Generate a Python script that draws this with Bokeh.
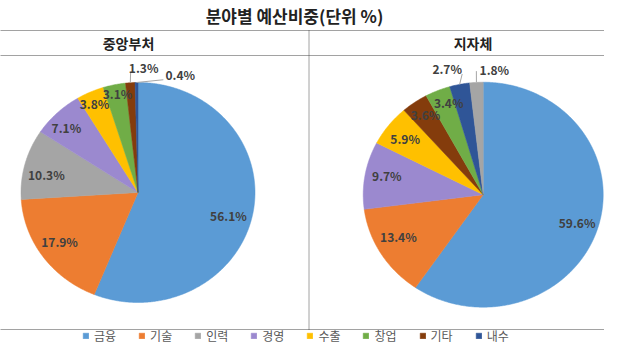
import math
from bokeh.plotting import figure
from bokeh.models import ColumnDataSource, Range1d, Label, Legend, LegendItem
from bokeh.core.properties import value
from bokeh.embed import file_html
from bokeh.resources import INLINE

# ---------------- data ----------------
title_text = "분야별 예산비중(단위 %)"
panel_titles = ["중앙부처", "지자체"]
categories = ["금융", "기술", "인력", "경영", "수출", "창업", "기타", "내수"]
central_values = [56.1, 17.9, 10.3, 7.1, 3.8, 3.1, 1.3, 0.4]
local_values = [59.6, 13.4, 1.8, 9.7, 5.9, 3.4, 3.6, 2.7]
local_order = ["금융", "기술", "경영", "수출", "기타", "창업", "내수", "인력"]

# ---------------- styles ----------------
colors = {
    "금융": "#5B9BD5", "기술": "#ED7D31", "인력": "#A5A5A5", "경영": "#9B89CF",
    "수출": "#FFC000", "창업": "#70AD47", "기타": "#843C0C", "내수": "#2F5597",
}
KFONT = "Noto Sans CJK KR"
LABEL_COLOR = "#404040"

W, H = 604, 344

# layout (picture pixel coordinates)
left_pie = dict(cx=137.5, cy=192.0, rx=117.0, ry=110.0,
                shift=[4, 2.2, -3.1, -2.3, -0.6, 0.7, 6.2, 19.4],
                rad=[0.80, 0.805, 0.80, 0.85, 0.89, 0.917, 1.14, 1.13],
                leader=[None, None, None, None, None, None, (-13, 5), (-17, 5)])
right_pie = dict(cx=482.7, cy=194.2, rx=120.0, ry=112.5,
                 shift=[0.2, 3.6, 1.8, -0.5, 0.9, 3.0, -3.7, 8.0],
                 rad=[0.82, 0.80, 0.82, 0.82, 0.86, 0.87, 1.157, 1.12],
                 leader=[None, None, None, None, None, None, (15, 5), (-18, 2)])

p = figure(width=W, height=H, x_range=Range1d(0, W), y_range=Range1d(H, 0),
           output_backend="svg", toolbar_location=None, min_border=0,
           x_axis_location=None, y_axis_location=None)
p.grid.visible = False
p.outline_line_color = None
p.background_fill_color = "white"
p.border_fill_color = "white"


def pt(cfg, ang_deg, r):
    a = math.radians(ang_deg)
    return cfg["cx"] + cfg["rx"] * r * math.sin(a), cfg["cy"] - cfg["ry"] * r * math.cos(a)


def build_pie(cats, vals, cfg):
    total = sum(vals)
    xs, ys, cols, names = [], [], [], []
    lx, ly, lt = [], [], []
    seg = {"x0": [], "y0": [], "x1": [], "y1": []}
    start = 0.0
    for i, (c, v) in enumerate(zip(cats, vals)):
        sweep = v / total * 360.0
        end = start + sweep
        n = max(2, int(sweep * 2))
        px, py = [cfg["cx"]], [cfg["cy"]]
        for k in range(n + 1):
            x, y = pt(cfg, start + sweep * k / n, 1.0)
            px.append(x)
            py.append(y)
        xs.append(px)
        ys.append(py)
        cols.append(colors[c])
        names.append(c)
        mid = (start + end) / 2
        x, y = pt(cfg, mid + cfg["shift"][i], cfg["rad"][i])
        lx.append(x)
        ly.append(y)
        lt.append(f"{v:.1f}%")
        if cfg["leader"][i] is not None:
            ex, ey = pt(cfg, mid, 1.0)
            seg["x0"].append(x + cfg["leader"][i][0])
            seg["y0"].append(y + cfg["leader"][i][1])
            seg["x1"].append(ex)
            seg["y1"].append(ey)
        start = end
    src = ColumnDataSource(dict(xs=xs, ys=ys, color=cols, name=names))
    r = p.patches("xs", "ys", source=src, fill_color="color", line_color="color", line_width=0.5)
    p.segment("x0", "y0", "x1", "y1", source=ColumnDataSource(seg), line_color="#A6A6A6", line_width=1)
    p.text(lx, ly, text=lt, text_align="center", text_baseline="middle",
           text_font=value(KFONT), text_font_style="bold", text_font_size="12px",
           text_color=LABEL_COLOR)
    return r


r_left = build_pie(categories, central_values, left_pie)
local_map = dict(zip(categories, local_values))
r_right = build_pie(local_order, [local_map[c] for c in local_order], right_pie)

# dotted table frame
p.segment(x0=[0, 0, 0, 308.5], y0=[30, 55, 329, 30], x1=[W, W, W, 308.5], y1=[30, 55, 329, 329],
          line_color="#444444", line_width=1, line_dash="1 1")

# title and panel headers
p.add_layout(Label(x=294, y=14.5, text=title_text, text_align="center", text_baseline="middle",
                   text_font=KFONT, text_font_style="bold", text_font_size="17px", text_color="#222222"))
for tx, t in zip([128, 472.5], panel_titles):
    p.add_layout(Label(x=tx, y=42, text=t, text_align="center", text_baseline="middle",
                       text_font=KFONT, text_font_style="bold", text_font_size="14px", text_color="#222222"))

# legend
items = [LegendItem(label=c, renderers=[r_left], index=i) for i, c in enumerate(categories)]
legend = Legend(items=items, orientation="horizontal", location=(82, 0),
                glyph_width=7, glyph_height=7, label_standoff=5, spacing=22,
                padding=0, margin=0, border_line_color=None, background_fill_alpha=0,
                label_text_font=KFONT, label_text_font_size="12px", label_text_color="#595959",
                label_height=12)
p.add_layout(legend)

open("out.html", "w").write(file_html(p, INLINE))
